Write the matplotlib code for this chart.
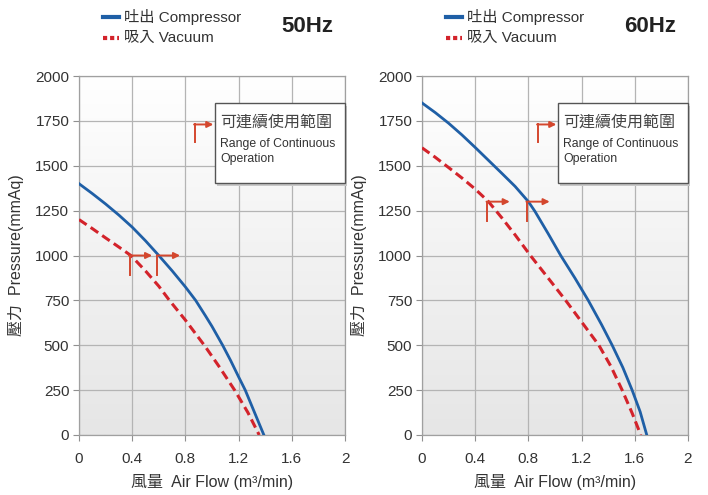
import numpy as np
import matplotlib
matplotlib.use("Agg")
import matplotlib.pyplot as plt
from matplotlib import font_manager
from matplotlib.patches import Rectangle
from matplotlib.lines import Line2D
from matplotlib.colors import LinearSegmentedColormap

# ---------------- data ----------------
x_ticks = [0, 0.4, 0.8, 1.2, 1.6, 2]
x_tick_labels = ["0", "0.4", "0.8", "1.2", "1.6", "2"]
y_ticks = [0, 250, 500, 750, 1000, 1250, 1500, 1750, 2000]

comp50_x = [0, 0.1, 0.2, 0.3, 0.4, 0.5, 0.6, 0.7, 0.8, 0.877, 0.95, 1.0, 1.08, 1.14, 1.2, 1.25, 1.32, 1.39]
comp50_y = [1400, 1345, 1287, 1225, 1158, 1082, 1000, 915, 825, 750, 665, 605, 500, 415, 324, 250, 125, 0]
vac50_x = [0, 0.1, 0.2, 0.3, 0.39, 0.5, 0.6, 0.68, 0.8, 0.947, 1.05, 1.17, 1.27, 1.355]
vac50_y = [1200, 1150, 1098, 1047, 1000, 914, 829, 750, 640, 495, 385, 250, 125, 0]

comp60_x = [0, 0.1, 0.2, 0.3, 0.4, 0.5, 0.6, 0.7, 0.8, 0.85, 0.95, 1.043, 1.15, 1.25, 1.35, 1.43, 1.51, 1.58, 1.64, 1.69]
comp60_y = [1850, 1796, 1737, 1672, 1602, 1530, 1458, 1385, 1300, 1245, 1120, 1000, 874, 750, 615, 500, 376, 250, 130, 0]
vac60_x = [0, 0.1, 0.2, 0.3, 0.4, 0.5, 0.6, 0.7, 0.815, 0.95, 1.08, 1.2, 1.33, 1.42, 1.505, 1.58, 1.645]
vac60_y = [1600, 1547, 1490, 1432, 1370, 1300, 1210, 1115, 1000, 873, 750, 630, 500, 383, 250, 122, 0]

# start points of continuous operation range (vacuum, compressor)
range50_x = [0.38, 0.59]
range50_y = [1000, 1000]
range60_x = [0.49, 0.79]
range60_y = [1300, 1300]

panels = [
    dict(title="50Hz", cx=comp50_x, cy=comp50_y, vx=vac50_x, vy=vac50_y,
         rx=range50_x, ry=range50_y),
    dict(title="60Hz", cx=comp60_x, cy=comp60_y, vx=vac60_x, vy=vac60_y,
         rx=range60_x, ry=range60_y),
]

legend_comp = "吐出 Compressor"
legend_vac = "吸入 Vacuum"
box_cjk = "可連續使用範圍"
box_en = "Range of Continuous\nOperation"
xlabel = "風量  Air Flow (m³/min)"
ylabel = "壓力  Pressure(mmAq)"

# ---------------- style ----------------
FAM = ["Liberation Sans", "Noto Sans CJK TC", "DejaVu Sans"]
names = {f.name for f in font_manager.fontManager.ttflist}
NARROW = ["Liberation Sans Narrow"] if "Liberation Sans Narrow" in names else []
NARROW_FAM = NARROW + FAM
plt.rcParams["font.family"] = FAM

BLUE = "#1f5fa6"
RED = "#d3232b"
ARROW = "#d4472e"
GRID = "#b4b4b4"
TXT = "#333333"

fig = plt.figure(figsize=(7.08, 4.95), dpi=100)
fig.patch.set_facecolor("white")

bg_cmap = LinearSegmentedColormap.from_list("bg", ["#ffffff", "#f2f2f2", "#e6e6e6"])
grad = np.linspace(0, 1, 256)[:, None]

lefts = [79 / 708, 422 / 708]
for i, p in enumerate(panels):
    ax = fig.add_axes([lefts[i], 60 / 495, 266 / 708, 359 / 495])
    ax.set_xlim(0, 2)
    ax.set_ylim(0, 2000)
    ax.imshow(grad, extent=[0, 2, 0, 2000], aspect="auto", cmap=bg_cmap,
              origin="upper", zorder=0)
    ax.set_xticks(x_ticks)
    ax.set_xticklabels(x_tick_labels)
    ax.set_yticks(y_ticks)
    ax.grid(True, color=GRID, lw=0.9)
    ax.set_axisbelow(True)
    for s in ax.spines.values():
        s.set_color("#a0a0a0")
        s.set_linewidth(0.9)
    ax.tick_params(colors="#909090", labelcolor=TXT, labelsize=11, length=4,
                   width=0.8, pad=3)
    ax.tick_params(axis="x", pad=8)

    ax.plot(p["cx"], p["cy"], color=BLUE, lw=2.0, zorder=3,
            solid_joinstyle="round")
    ax.plot(p["vx"], p["vy"], color=RED, lw=2.2, ls=(0, (3, 1.6)), zorder=3)

    # continuous-range markers
    for rx, ry in zip(p["rx"], p["ry"]):
        ax.plot([rx, rx], [ry - 110, ry], color=ARROW, lw=1.4, zorder=4)
        ax.annotate("", xy=(rx + 0.17, ry), xytext=(rx - 0.005, ry),
                    arrowprops=dict(arrowstyle="-|>", color=ARROW, lw=1.4,
                                    mutation_scale=9, shrinkA=0, shrinkB=0),
                    zorder=4)

    # legend-like box
    bx0, bx1, by0, by1 = 1.02, 2.0, 1405, 1850
    ax.add_patch(Rectangle((bx0 + 0.015, by0 - 18), bx1 - bx0, by1 - by0,
                           facecolor="#c8c8c8", edgecolor="none", zorder=5,
                           clip_on=False))
    ax.add_patch(Rectangle((bx0, by0), bx1 - bx0, by1 - by0, facecolor="white",
                           edgecolor="#555555", lw=1.0, zorder=6, clip_on=False))
    mx, my = 0.87, 1630
    ax.plot([mx, mx], [my, my + 100], color=ARROW, lw=1.4, zorder=4)
    ax.annotate("", xy=(mx + 0.14, my + 100), xytext=(mx - 0.005, my + 100),
                arrowprops=dict(arrowstyle="-|>", color=ARROW, lw=1.4,
                                mutation_scale=9, shrinkA=0, shrinkB=0), zorder=4)
    ax.text(bx0 + 0.04, 1742, box_cjk, fontsize=11.5, color="#444444",
            va="center", ha="left", zorder=7, family=["Noto Sans CJK TC"])
    ax.text(bx0 + 0.04, 1580, box_en, fontsize=10 if NARROW else 8.8,
            color="#333333", va="center", ha="left", zorder=7,
            linespacing=1.35, family=NARROW_FAM)

    ax.set_xlabel(xlabel, fontsize=11.5, color=TXT, labelpad=6)
    ax.set_ylabel(ylabel, fontsize=11.5, color=TXT, labelpad=8)

    # top legend and title (figure coords)
    x0 = lefts[i] * 708 + 24
    fig.add_artist(Line2D([x0 / 708, (x0 + 16) / 708], [1 - 17 / 495] * 2,
                          color=BLUE, lw=3))
    fig.add_artist(Line2D([x0 / 708, (x0 + 16) / 708], [1 - 38 / 495] * 2,
                          color=RED, lw=3, ls=(0, (1.0, 0.7))))
    fig.text((x0 + 21) / 708, 1 - 17 / 495, legend_comp, fontsize=11,
             color=TXT, va="center", ha="left")
    fig.text((x0 + 21) / 708, 1 - 38 / 495, legend_vac, fontsize=11,
             color=TXT, va="center", ha="left")
    fig.text((lefts[i] * 708 + 228) / 708, 1 - 27 / 495, p["title"],
             fontsize=16, fontweight="bold", color="#222222",
             va="center", ha="center")

fig.savefig("out.png", dpi=100, facecolor="white")
